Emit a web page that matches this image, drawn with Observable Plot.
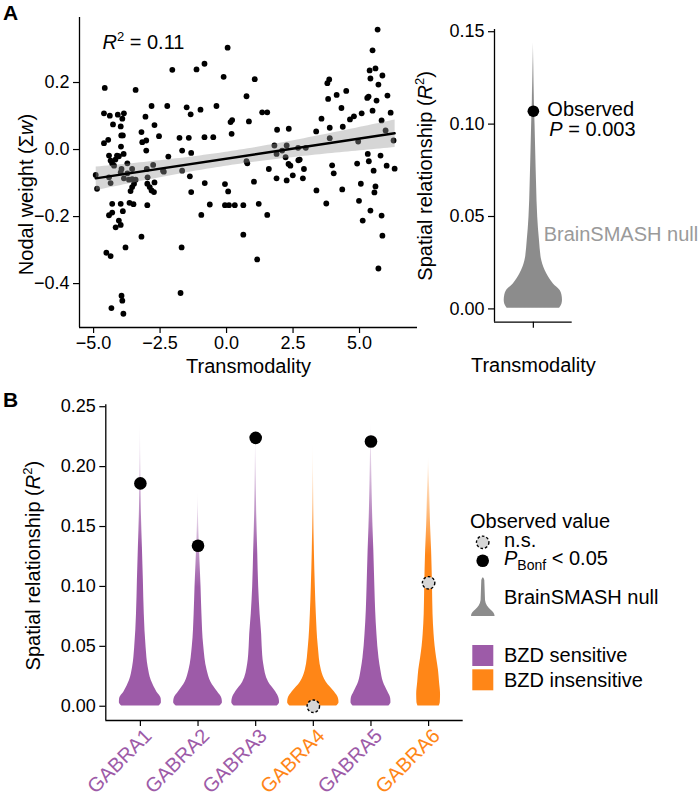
<!DOCTYPE html>
<html>
<head>
<meta charset="utf-8">
<script src="https://cdn.jsdelivr.net/npm/d3@7"></script>
<script src="https://cdn.jsdelivr.net/npm/@observablehq/plot@0.6"></script>
<style>
html,body{margin:0;padding:0;background:#fff;}
#root{position:relative;width:700px;height:798px;overflow:hidden;background:#fff;font-family:"Liberation Sans",Arial,Helvetica,sans-serif;}
</style>
</head>
<body>
<div id="root"></div>
<script>
// ---------------- DATA ----------------
// Panel A (scatter): transmodality vs nodal weight
const transmodality = [
-4.58,-3.42,-4.61,-4.39,-4.09,-3.86,-3.92,-4.27,-3.98,-4.45,-4.61,-3.96,-3.90,-3.97,-3.87,-4.42,-4.36,-4.30,-4.23,-4.18,
-4.12,-4.05,-3.73,-4.92,-4.87,-4.42,-4.36,-3.98,-3.86,-3.67,-3.55,-3.42,-3.61,-3.55,-3.48,-3.20,-3.02,-3.17,-3.02,-3.05,
-2.82,-2.71,-2.54,-3.00,-2.76,-2.98,-2.89,-2.82,-2.73,-2.71,-2.39,-2.36,-2.23,-2.04,-2.19,-1.50,-1.35,-1.77,-1.42,-1.67,
-1.33,-1.67,-1.38,-1.33,-1.13,-0.83,-0.98,-0.83,-0.50,-0.38,-0.11,0.04,0.15,0.21,0.19,0.75,1.06,0.84,1.34,1.53,
-0.82,-0.06,0.06,-0.63,-0.95,-0.06,0.09,0.31,0.63,0.75,0.78,1.03,1.21,1.53,0.63,1.15,1.59,1.90,2.34,1.88,
2.26,1.80,1.88,2.09,2.26,2.69,2.98,2.22,2.33,2.40,2.49,2.70,2.75,2.91,2.87,3.37,3.57,3.38,3.75,3.79,
3.86,3.82,4.14,4.50,4.32,3.88,4.37,4.64,4.79,3.88,4.95,3.97,4.03,4.35,4.91,5.05,4.98,5.12,5.31,5.35,
5.08,5.29,5.68,5.49,5.38,5.60,5.41,5.71,5.86,5.34,5.64,5.49,6.05,5.83,6.17,5.98,6.28,5.79,5.53,6.02,
5.56,5.41,5.83,5.86,5.71,6.32,5.60,-4.30,-3.98,-3.65,-3.50,-2.98,-4.42,-4.30,-3.90,-4.05,-3.98,-4.17,-3.20,-3.80,
-4.52,-4.36,-3.95,-3.92,-3.88,-4.33,-1.69,-1.73,-2.97,-3.95,-3.73,-3.55
];
const nodalWeight = [
0.184,0.178,0.108,0.101,0.104,0.108,0.092,0.075,0.069,0.029,0.019,0.042,0.042,0.009,-0.013,-0.018,-0.033,-0.042,-0.048,-0.030,
-0.018,-0.020,-0.041,-0.076,-0.117,-0.083,-0.100,-0.068,-0.086,-0.090,-0.088,-0.090,-0.124,-0.112,-0.102,0.052,0.027,0.022,-0.003,0.098,
0.130,0.073,0.040,-0.058,-0.046,-0.102,-0.112,-0.122,-0.127,-0.098,-0.063,-0.066,0.130,0.238,-0.021,0.126,0.105,0.035,0.035,-0.003,
-0.010,-0.063,-0.080,-0.127,0.239,0.256,0.119,0.037,0.037,0.130,0.217,0.304,0.082,0.088,0.047,0.159,0.210,0.084,0.111,0.111,
-0.100,-0.103,-0.125,-0.164,-0.195,-0.166,-0.166,-0.166,-0.166,-0.035,-0.041,-0.096,-0.162,-0.195,-0.254,-0.328,-0.058,0.059,0.062,-0.086,
-0.092,0.012,-0.013,-0.003,0.012,0.005,0.005,-0.023,-0.043,-0.048,-0.077,-0.032,-0.030,-0.058,-0.086,0.054,0.092,-0.122,-0.161,0.198,
0.209,0.151,0.163,0.175,0.124,0.065,0.068,0.090,0.099,0.034,0.024,-0.047,-0.071,-0.119,-0.042,-0.102,-0.153,-0.212,-0.013,-0.035,
0.108,0.154,0.358,0.296,0.236,0.242,0.212,0.194,0.221,0.158,0.146,0.116,0.161,0.087,0.110,0.057,0.027,-0.018,-0.063,-0.048,
-0.128,-0.182,-0.197,-0.257,-0.355,-0.057,-0.110,-0.162,-0.162,-0.159,-0.163,-0.166,-0.196,-0.188,-0.184,-0.212,-0.225,-0.232,-0.260,-0.292,
-0.308,-0.318,-0.436,-0.451,-0.490,-0.473,-0.292,-0.428,-0.083,-0.058,-0.071,-0.058
];
const r2LabelA = "0.11";
const xTicksA = [-5, -2.5, 0, 2.5, 5];
const yTicksA = [-0.4, -0.2, 0, 0.2];
const xDomainA = [-5.53, 7.18];
const yDomainA = [-0.531, 0.394];

// Panel A (violin): BrainSMASH null distribution profile (R2, relative width)
const nullA_R2 = [0.0003,0.0025,0.0045,0.0075,0.0099,0.0135,0.019,0.026,0.037,0.0496,0.0676,0.0857,0.100,0.113,0.131,0.144];
const nullA_W  = [0.90,0.98,1.00,0.98,0.92,0.69,0.46,0.29,0.21,0.15,0.11,0.08,0.058,0.034,0.02,0];
const observedA = 0.107;
const pValueA = "0.003";
const nullLabelY_A = 0.0404;
const yTicksV = [0, 0.05, 0.10, 0.15];
const yDomainV = [-0.0072, 0.1512];

// Panel B: genes
const genes = ["GABRA1","GABRA2","GABRA3","GABRA4","GABRA5","GABRA6"];
const bzd = ["sensitive","sensitive","sensitive","insensitive","sensitive","insensitive"];
const observedR2 = [0.186, 0.134, 0.224, 0.000, 0.221, 0.103];
const significant = [true, true, true, false, true, false];
const gabra1R2 = [0.0003,0.003,0.0065,0.0117,0.0214,0.0325,0.049,0.077,0.105,0.133,0.16,0.188,0.24];
const gabra1W  = [0.72,0.81,0.80,0.64,0.42,0.30,0.22,0.15,0.115,0.077,0.04,0.02,0];
const gabra2R2 = [0.0003,0.003,0.0065,0.012,0.02,0.03,0.05,0.077,0.1,0.12,0.14,0.18];
const gabra2W  = [0.84,0.94,0.92,0.75,0.50,0.35,0.22,0.15,0.115,0.077,0.04,0];
const gabra3R2 = [0.0003,0.003,0.0065,0.012,0.02,0.035,0.05,0.06,0.077,0.1,0.13,0.16,0.2,0.23];
const gabra3W  = [0.83,0.92,0.90,0.77,0.50,0.31,0.25,0.23,0.17,0.115,0.077,0.04,0.015,0];
const gabra4R2 = [0.0003,0.003,0.0065,0.012,0.02,0.03,0.05,0.077,0.1,0.13,0.17,0.222];
const gabra4W  = [0.90,0.99,0.97,0.81,0.50,0.31,0.19,0.115,0.077,0.04,0.015,0];
const gabra5R2 = [0.0003,0.003,0.0065,0.012,0.02,0.03,0.04,0.06,0.08,0.1,0.13,0.15,0.19,0.238];
const gabra5W  = [0.69,0.77,0.76,0.65,0.48,0.38,0.31,0.23,0.18,0.15,0.11,0.077,0.035,0];
const gabra6R2 = [0.0003,0.003,0.01,0.02,0.03,0.04,0.05,0.06,0.077,0.1,0.13,0.15,0.18,0.209];
const gabra6W  = [0.41,0.45,0.46,0.42,0.38,0.31,0.25,0.21,0.17,0.15,0.115,0.077,0.04,0];
const yTicksB = [0, 0.05, 0.10, 0.15, 0.20, 0.25];
const yDomainB = [-0.0119, 0.2516];
const xDomainB = [0.4, 6.6];

// ---------------- STYLE ----------------
const FONT = '"Liberation Sans", Arial, Helvetica, sans-serif';
const PURPLE = "#9D5BA8", ORANGE = "#FF8617", GRAY = "#8c8c8c", LIGHTGRAY = "#9a9a9a";
const root = document.getElementById("root");
const fmt1 = d3.format(".1f"), fmt2 = d3.format(".2f");
const baseStyle = {background: "transparent", fontFamily: FONT, fontSize: "18px", color: "black", overflow: "visible"};

function mount(el, left, top) {
  const svg = el.tagName.toLowerCase() === "svg" ? el : el.querySelector("svg");
  el.style.position = "absolute"; el.style.left = left + "px"; el.style.top = top + "px";
  root.appendChild(el);
  return svg;
}
function addGradient(svg, id, color, solidUntil, endOpacity) {
  const defs = d3.select(svg).insert("defs", ":first-child");
  const g = defs.append("linearGradient").attr("id", id)
    .attr("x1", 0).attr("y1", 1).attr("x2", 0).attr("y2", 0);
  g.append("stop").attr("offset", 0).attr("stop-color", color).attr("stop-opacity", 1);
  g.append("stop").attr("offset", solidUntil).attr("stop-color", color).attr("stop-opacity", 1);
  g.append("stop").attr("offset", 1).attr("stop-color", color).attr("stop-opacity", endOpacity);
}
function rich(svg, match, parts) {
  d3.select(svg).selectAll("text").filter(function() { return this.textContent === match; })
    .each(function() {
      const t = d3.select(this); t.text(null);
      parts.forEach(p => {
        const s = t.append("tspan").text(p.t);
        if (p.i) s.attr("font-style", "italic");
        if (p.dy) s.attr("dy", p.dy);
        if (p.fs) s.attr("font-size", p.fs);
      });
    });
}

// ---------------- PANEL A: scatter ----------------
const scatter = transmodality.map((x, i) => ({x, y: nodalWeight[i]}));
const plotA = Plot.plot({
  width: 420, height: 380,
  marginLeft: 79, marginRight: 3, marginTop: 17, marginBottom: 53,
  style: baseStyle,
  x: {domain: xDomainA},
  y: {domain: yDomainA},
  marks: [
    Plot.dot(scatter, {x: "x", y: "y", r: 2.9, fill: "black"}),
    Plot.linearRegressionY(scatter, {x: "x", y: "y", stroke: "black", strokeWidth: 2.4, fill: "#999999", fillOpacity: 0.4}),
    Plot.ruleX([xDomainA[0]], {stroke: "black", strokeWidth: 1.3}),
    Plot.ruleY([yDomainA[0]], {stroke: "black", strokeWidth: 1.3}),
    Plot.axisX({ticks: xTicksA, tickFormat: fmt1, tickSize: 6, tickPadding: 3, label: null, fontSize: 18, strokeWidth: 1.2}),
    Plot.axisY({ticks: yTicksA, tickFormat: fmt1, tickSize: 6, tickPadding: 4, label: null, fontSize: 18, strokeWidth: 1.2}),
    Plot.text(["Transmodality"], {frameAnchor: "bottom", dy: 45, lineAnchor: "bottom", fontSize: 20}),
    Plot.text(["Nodal weight (Sw)"], {frameAnchor: "left", rotate: -90, dx: -53, dy: 22, textAnchor: "middle", lineAnchor: "middle", fontSize: 20}),
    Plot.text(["R2 = " + r2LabelA], {frameAnchor: "top-left", dx: 23, dy: 31, textAnchor: "start", lineAnchor: "bottom", fontSize: 20})
  ]
});
const svgA = mount(plotA, 0, 0);
rich(svgA, "Nodal weight (Sw)", [{t: "Nodal weight (\u03A3"}, {t: "w", i: true}, {t: ")"}]);
rich(svgA, "R2 = " + r2LabelA, [{t: "R", i: true}, {t: "2", dy: -8, fs: 13}, {t: " = " + r2LabelA, dy: 8}]);

// ---------------- PANEL A: violin ----------------
const violinA = nullA_R2.map((r, i) => ({r2: r, w: nullA_W[i]}));
const plotV = Plot.plot({
  width: 280, height: 380,
  marginLeft: 74, marginRight: 128.3, marginTop: 29, marginBottom: 58.3,
  style: baseStyle,
  x: {domain: [0.4, 1.6]},
  y: {domain: yDomainV},
  marks: [
    Plot.areaX(violinA, {y: "r2", x1: d => 1 - 0.45 * d.w, x2: d => 1 + 0.45 * d.w, fill: "url(#gradGrayA)", curve: "monotone-y"}),
    Plot.dot([observedA], {x: () => 1, y: d => d, r: 5.8, fill: "black"}),
    Plot.text(["Observed"], {x: () => 1, y: () => observedA, dx: 14, dy: -1.5, textAnchor: "start", lineAnchor: "middle", fontSize: 20}),
    Plot.text(["P = " + pValueA], {x: () => 1, y: () => observedA, dx: 16, dy: 18, textAnchor: "start", lineAnchor: "middle", fontSize: 20}),
    Plot.text(["BrainSMASH null"], {x: () => 1, y: () => nullLabelY_A, dx: 10.3, textAnchor: "start", lineAnchor: "middle", fontSize: 20, fill: LIGHTGRAY}),
    Plot.ruleX([0.4], {stroke: "black", strokeWidth: 1.3}),
    Plot.ruleY([yDomainV[0]], {stroke: "black", strokeWidth: 1.3}),
    Plot.axisX({ticks: [1], tickFormat: () => "", tickSize: 6, label: null, strokeWidth: 1.2}),
    Plot.axisY({ticks: yTicksV, tickFormat: fmt2, tickSize: 6, tickPadding: 4, label: null, fontSize: 18, strokeWidth: 1.2}),
    Plot.text(["Transmodality"], {frameAnchor: "bottom", dy: 50, lineAnchor: "bottom", fontSize: 20}),
    Plot.text(["Spatial relationship (R2)"], {frameAnchor: "left", rotate: -90, dx: -69, dy: 0, textAnchor: "middle", lineAnchor: "middle", fontSize: 20})
  ]
});
const svgV = mount(plotV, 420, 0);
addGradient(svgV, "gradGrayA", GRAY, 0.8, 0.35);
rich(svgV, "P = " + pValueA, [{t: "P", i: true}, {t: " = " + pValueA}]);
rich(svgV, "Spatial relationship (R2)", [{t: "Spatial relationship ("}, {t: "R", i: true}, {t: "2", dy: -8, fs: 13}, {t: ")", dy: 8}]);

// ---------------- PANEL B ----------------
const profR2 = [gabra1R2, gabra2R2, gabra3R2, gabra4R2, gabra5R2, gabra6R2];
const profW = [gabra1W, gabra2W, gabra3W, gabra4W, gabra5W, gabra6W];
const violinRows = genes.flatMap((g, gi) => profR2[gi].map((r, k) => ({gene: g, pos: gi + 1, group: bzd[gi], r2: r, w: profW[gi][k]})));
const obsRows = genes.map((g, gi) => ({gene: g, pos: gi + 1, r2: observedR2[gi], sig: significant[gi]}));

const plotB = Plot.plot({
  width: 470, height: 418,
  marginLeft: 105.3, marginRight: 7.3, marginTop: 24.3, marginBottom: 78,
  style: baseStyle,
  x: {domain: xDomainB},
  y: {domain: yDomainB},
  marks: [
    Plot.areaX(violinRows.filter(d => d.group === "sensitive"), {y: "r2", x1: d => d.pos - 0.45 * d.w, x2: d => d.pos + 0.45 * d.w, z: "gene", fill: "url(#gradPurple)", curve: "monotone-y"}),
    Plot.areaX(violinRows.filter(d => d.group === "insensitive"), {y: "r2", x1: d => d.pos - 0.45 * d.w, x2: d => d.pos + 0.45 * d.w, z: "gene", fill: "url(#gradOrange)", curve: "monotone-y"}),
    Plot.dot(obsRows.filter(d => d.sig), {x: "pos", y: "r2", r: 6.3, fill: "black"}),
    Plot.dot(obsRows.filter(d => !d.sig), {x: "pos", y: "r2", r: 6.2, fill: "#d6d6d6", stroke: "black", strokeWidth: 1.4, strokeDasharray: "2.6,2"}),
    Plot.ruleX([xDomainB[0]], {stroke: "black", strokeWidth: 1.3}),
    Plot.ruleY([yDomainB[0]], {stroke: "black", strokeWidth: 1.3}),
    Plot.axisX({ticks: genes.map((g, i) => i + 1), tickFormat: i => genes[i - 1], tickSize: 6, tickPadding: 2, tickRotate: -45, label: null, fontSize: 20, strokeWidth: 1.2}),
    Plot.axisY({ticks: yTicksB, tickFormat: fmt2, tickSize: 6, tickPadding: 4, label: null, fontSize: 18, strokeWidth: 1.2}),
    Plot.text(["Spatial relationship (R2)"], {frameAnchor: "left", rotate: -90, dx: -72.3, dy: 3, textAnchor: "middle", lineAnchor: "middle", fontSize: 20})
  ]
});
const svgB = mount(plotB, 0, 380);
addGradient(svgB, "gradPurple", PURPLE, 0.55, 0.0);
addGradient(svgB, "gradOrange", ORANGE, 0.6, 0.0);
rich(svgB, "Spatial relationship (R2)", [{t: "Spatial relationship ("}, {t: "R", i: true}, {t: "2", dy: -8, fs: 13}, {t: ")", dy: 8}]);
const geneLabelGroups = new Set();
d3.select(svgB).selectAll("text").each(function() {
  const gi = genes.indexOf(this.textContent);
  if (gi >= 0) {
    d3.select(this).attr("fill", bzd[gi] === "sensitive" ? PURPLE : ORANGE);
    geneLabelGroups.add(this.parentNode);
  }
});
geneLabelGroups.forEach(g => {
  const tr = g.getAttribute("transform") || "";
  g.setAttribute("transform", (tr + " translate(8,4)").trim());
});

// ---------------- Overlay: panel tags + legend ----------------
const ov = d3.create("svg").attr("width", 700).attr("height", 798)
  .style("position", "absolute").style("left", "0px").style("top", "0px")
  .style("pointer-events", "none").style("font-family", FONT);
ov.append("text").attr("x", 3).attr("y", 20).attr("font-size", 21).attr("font-weight", "bold").text("A");
ov.append("text").attr("x", 3).attr("y", 407).attr("font-size", 21).attr("font-weight", "bold").text("B");

const lg = ov.append("g").attr("font-size", 20).attr("fill", "black");
lg.append("text").attr("x", 470).attr("y", 528).text("Observed value");
lg.append("circle").attr("cx", 482.7).attr("cy", 542.3).attr("r", 6.2).attr("fill", "#d6d6d6")
  .attr("stroke", "black").attr("stroke-width", 1.4).attr("stroke-dasharray", "2.6,2");
lg.append("text").attr("x", 504).attr("y", 547).text("n.s.");
lg.append("circle").attr("cx", 482.7).attr("cy", 560.7).attr("r", 6.3).attr("fill", "black");
const pt = lg.append("text").attr("x", 504).attr("y", 565);
pt.append("tspan").attr("font-style", "italic").text("P");
pt.append("tspan").attr("font-size", 14).attr("dy", 4.5).text("Bonf");
pt.append("tspan").attr("dy", -4.5).text(" < 0.05");
lg.append("path").attr("fill", GRAY)
  .attr("d", "M471,616 C471,610 479.6,609 480.6,600 L481.3,580 Q482.8,574.5 484.3,580 L485,600 C486,609 494.6,610 494.6,616 Z");
lg.append("text").attr("x", 504).attr("y", 604).text("BrainSMASH null");
lg.append("rect").attr("x", 472.3).attr("y", 645).attr("width", 21).attr("height", 21).attr("fill", PURPLE);
lg.append("rect").attr("x", 472.3).attr("y", 669.3).attr("width", 21).attr("height", 21).attr("fill", ORANGE);
lg.append("text").attr("x", 504).attr("y", 662).text("BZD sensitive");
lg.append("text").attr("x", 504).attr("y", 687).text("BZD insensitive");
root.appendChild(ov.node());
</script>
</body>
</html>
